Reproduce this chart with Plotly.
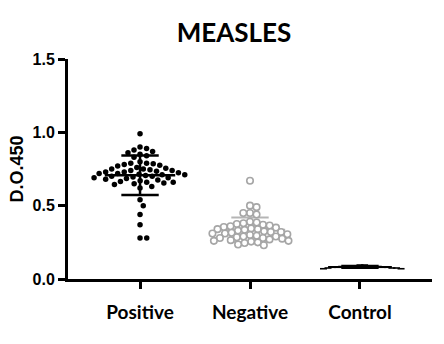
import numpy as np
import plotly.graph_objects as go

categories = ["Positive", "Negative", "Control"]

positive = [0.99, 0.90, 0.89, 0.88, 0.87, 0.86, 0.85, 0.84, 0.83,
            0.80, 0.79, 0.785, 0.78, 0.775, 0.79, 0.77,
            0.76, 0.755, 0.75, 0.745, 0.74, 0.75, 0.735, 0.74,
            0.73, 0.725, 0.72, 0.715, 0.71, 0.72, 0.705, 0.73, 0.71,
            0.70, 0.695, 0.69, 0.685, 0.68, 0.69, 0.675, 0.70,
            0.67, 0.665, 0.66, 0.655, 0.65, 0.66, 0.645,
            0.63, 0.62,
            0.54, 0.50, 0.44, 0.37, 0.28, 0.28]

negative = [0.67, 0.50, 0.49, 0.45, 0.44, 0.45,
            0.39, 0.38, 0.375, 0.37, 0.365, 0.36, 0.385,
            0.35, 0.345, 0.34, 0.335, 0.33, 0.355, 0.34, 0.325,
            0.32, 0.315, 0.31, 0.305, 0.30, 0.32, 0.31, 0.295,
            0.29, 0.285, 0.28, 0.275, 0.27, 0.29, 0.28,
            0.265, 0.26, 0.255, 0.25, 0.26, 0.245,
            0.235, 0.23]

control = [0.095, 0.09, 0.085, 0.08, 0.075, 0.07, 0.09, 0.08, 0.085, 0.075,
           0.095, 0.09, 0.085, 0.08, 0.075, 0.07, 0.08, 0.085]

y_ticks = [0.0, 0.5, 1.0, 1.5]
y_ticktext = ["0.0", "0.5", "1.0", "1.5"]

PX_X = 110.0
PX_Y = 146.7


def swarm(vals, d):
    vals = np.asarray(vals, dtype=float)
    order = np.argsort(-vals, kind="stable")
    placed = []
    offs = np.zeros(len(vals))
    for i in order:
        y = vals[i] * PX_Y
        cands = [0.0]
        for (px, py) in placed:
            dy = y - py
            if abs(dy) < d:
                dx = np.sqrt(d * d - dy * dy)
                cands += [px + dx, px - dx]
        cands.sort(key=abs)
        for c in cands:
            if all((c - px) ** 2 + (y - py) ** 2 >= d * d - 1e-6 for px, py in placed):
                offs[i] = c
                placed.append((c, y))
                break
    return offs / PX_X


fig = go.Figure()


def stats_lines(idx, vals, color, width, mean_half, cap_half):
    m = float(np.mean(vals))
    s = float(np.std(vals, ddof=1))
    xs = [idx - mean_half, idx + mean_half, None,
          idx - cap_half, idx + cap_half, None,
          idx - cap_half, idx + cap_half, None,
          idx, idx]
    ys = [m, m, None, m + s, m + s, None, m - s, m - s, None, m - s, m + s]
    fig.add_trace(go.Scatter(x=xs, y=ys, mode="lines",
                             line=dict(color=color, width=width),
                             hoverinfo="skip", showlegend=False, cliponaxis=False))


# Negative: lines under points
stats_lines(1, negative, "#b5b5b5", 2, 0.32, 0.17)
xn = 1 + swarm(negative, 6.7)
fig.add_trace(go.Scatter(x=xn, y=negative, mode="markers",
                         marker=dict(size=6.5, color="white", symbol="circle",
                                     line=dict(color="#a6a6a6", width=1.6)),
                         showlegend=False, cliponaxis=False))

# Positive
xp = 0 + swarm(positive, 6.7)
fig.add_trace(go.Scatter(x=xp, y=positive, mode="markers",
                         marker=dict(size=5.5, color="black"),
                         showlegend=False, cliponaxis=False))
stats_lines(0, positive, "black", 2.5, 0.32, 0.17)

# Control
xc = 2 + swarm(control, 4.6)
fig.add_trace(go.Scatter(x=xc, y=control, mode="markers",
                         marker=dict(size=5, color="black", symbol="line-ew",
                                     line=dict(color="black", width=1.6)),
                         showlegend=False, cliponaxis=False))
stats_lines(2, control, "black", 2, 0.29, 0.17)

fig.update_layout(
    width=444, height=344,
    margin=dict(l=68, r=12, t=59, b=65),
    plot_bgcolor="white", paper_bgcolor="white",
    title=dict(text="MEASLES", x=234 / 444, xref="container", xanchor="center",
               y=1 - 33 / 344, yref="container", yanchor="middle",
               font=dict(family="Lato", size=26, color="black", weight="bold")),
    xaxis=dict(range=[-0.655, 2.655], tickvals=[0, 1, 2], ticktext=categories,
               showline=True, linewidth=3, linecolor="black",
               ticks="outside", ticklen=7, tickwidth=2.5, tickcolor="black",
               showgrid=False, zeroline=False, ticklabelstandoff=7,
               tickfont=dict(family="Lato", size=19, color="black", weight="bold")),
    yaxis=dict(range=[0, 1.5], tickvals=y_ticks, ticktext=y_ticktext,
               showline=True, linewidth=3, linecolor="black",
               ticks="outside", ticklen=7, tickwidth=2.5, tickcolor="black",
               showgrid=False, zeroline=False,
               tickfont=dict(family="Liberation Sans", size=16, color="black", weight="bold"),
               title=dict(text="D.O.450", standoff=5,
                          font=dict(family="Liberation Sans", size=18, color="black", weight="bold"))),
)

fig.write_html("out.html")
